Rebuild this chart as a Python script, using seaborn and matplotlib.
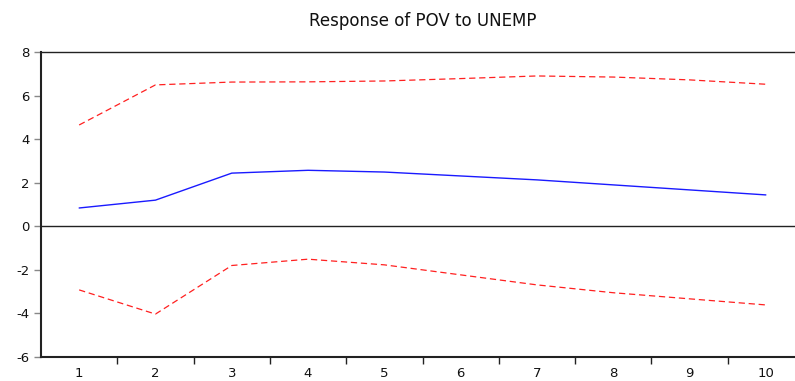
import numpy as np
import pandas as pd
import matplotlib
matplotlib.use("Agg")
import matplotlib.pyplot as plt
import seaborn as sns

periods = [1, 2, 3, 4, 5, 6, 7, 8, 9, 10]
response = [0.84, 1.20, 2.44, 2.57, 2.49, 2.31, 2.13, 1.90, 1.67, 1.44]
upper = [4.65, 6.49, 6.62, 6.63, 6.67, 6.78, 6.90, 6.85, 6.72, 6.52]
lower = [-2.92, -4.03, -1.80, -1.51, -1.77, -2.23, -2.69, -3.05, -3.33, -3.61]
title = "Response of POV to UNEMP"

sns.set_style("white")
plt.rcParams['font.family'] = ['DejaVu Sans']
plt.rcParams['axes.unicode_minus'] = False

df = pd.DataFrame({"period": periods, "response": response,
                   "upper": upper, "lower": lower})

fig = plt.figure(figsize=(7.95, 3.81), dpi=100)
W, H = 795, 381
left_px, right_px, top_px, bot_px = 41, 804, 52, 357
ax = fig.add_axes([left_px / W, 1 - bot_px / H,
                   (right_px - left_px) / W, (bot_px - top_px) / H])

sns.lineplot(data=df, x="period", y="upper", ax=ax, color="#ff2020",
             linewidth=0.9, linestyle=(0, (5, 3)))
sns.lineplot(data=df, x="period", y="lower", ax=ax, color="#ff2020",
             linewidth=0.9, linestyle=(0, (5, 3)))
sns.lineplot(data=df, x="period", y="response", ax=ax, color="#1a1aff",
             linewidth=1.0)
ax.axhline(0, color="#222222", linewidth=1.0, zorder=1)

ax.set_xlim(0.5, 10.5)
ax.set_ylim(-6, 8)
ax.set_yticks(np.arange(-6, 9, 2))
ax.set_xticks(np.arange(1.5, 10.5, 1.0))
ax.set_xticklabels([])
ax.set_xticks(periods, minor=True)
ax.set_xticklabels([str(p) for p in periods], minor=True)
ax.tick_params(axis="x", which="minor", bottom=False, length=0,
               labelsize=9.5, pad=7, labelcolor="#111111")
ax.tick_params(axis="x", which="major", bottom=True, length=5, width=1.0,
               direction="out", color="#222222")
ax.tick_params(axis="y", left=True, length=5, width=1.0, direction="out",
               labelsize=9.5, color="#888888", pad=3, labelcolor="#111111")
ax.set_xlabel("")
ax.set_ylabel("")

for side in ["left", "bottom"]:
    ax.spines[side].set_linewidth(1.5)
    ax.spines[side].set_color("#222222")
ax.spines["top"].set_linewidth(1.0)
ax.spines["top"].set_color("#222222")
ax.spines["right"].set_visible(False)

ax.set_title(title, fontsize=12, pad=19, color="#111111")

fig.savefig("out.png", dpi=100)
